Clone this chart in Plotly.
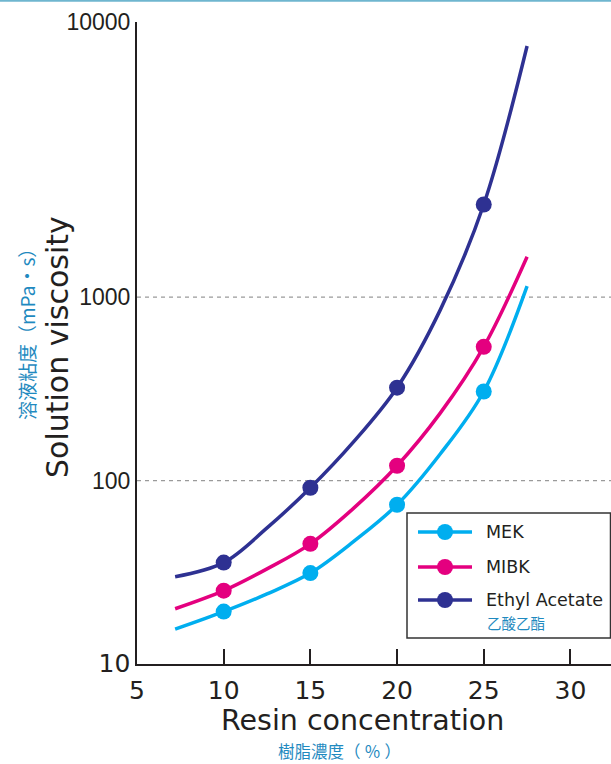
import plotly.graph_objects as go

# Resin concentration (%) at which the measured points are plotted
conc_points = [10, 15, 20, 25]
# Curve sample positions
conc_curve = [7.2, 10, 12.5, 15, 17.5, 20, 22.5, 25, 27.5]

# Solution viscosity (mPa·s)
mek_points = [19.3, 31.3, 73.8, 306]
mibk_points = [25.1, 45.2, 120.5, 536]
ea_points = [35.7, 91.4, 321, 3200]

mek_curve = [15.5, 19.3, 24.1, 31.3, 46.6, 73.8, 140, 306, 1148]
mibk_curve = [20.0, 25.1, 33.0, 45.2, 70.8, 120.5, 234, 536, 1660]
ea_curve = [29.9, 35.7, 55.2, 91.4, 163, 321, 855, 3200, 23400]

series_names = ["MEK", "MIBK", "Ethyl Acetate"]
series_sub = ["", "", "乙酸乙酯"]
series_colors = ["#00aeef", "#e4007f", "#2e3192"]

x_tickvals = [5, 10, 15, 20, 25, 30]
x_ticktext = ["5", "10", "15", "20", "25", "30"]
y_tickvals = [10, 100, 1000, 10 ** 4.5]
y_ticktext = ["<span style='font-family:DejaVu Sans;font-size:25px'>10</span>", "100", "1000", "10000"]
grid_vals = [100, 1000]

W, H = 611, 764
ML, MR, MT, MB = 137, 0, 22, 100
PW, PH = W - ML - MR, H - MT - MB


def px_x(p):
    return (p - ML) / PW


def px_y(p):
    return (H - MB - p) / PH


fig = go.Figure()
curves = [mek_curve, mibk_curve, ea_curve]
points = [mek_points, mibk_points, ea_points]
for i, (name, color) in enumerate(zip(series_names, series_colors)):
    fig.add_trace(go.Scatter(x=conc_curve, y=curves[i], mode="lines", name=name,
                             line=dict(color=color, width=3.5, shape="spline", smoothing=1.0),
                             showlegend=False, hoverinfo="skip"))
    fig.add_trace(go.Scatter(x=conc_points, y=points[i], mode="markers", name=name,
                             marker=dict(color=color, size=16), showlegend=False))

for gv in grid_vals:
    fig.add_shape(type="line", xref="paper", yref="y", x0=0, x1=1, y0=gv, y1=gv,
                  line=dict(color="#9a9a9a", width=1.3, dash="4px,4px"), layer="below")

# thin top rule
fig.add_shape(type="line", xref="paper", yref="paper", x0=px_x(0), x1=px_x(W), y0=px_y(0.8), y1=px_y(0.8),
              line=dict(color="#6fb6cf", width=2))

dark = "#231f20"
cjk_blue = "#1f8ac0"

# legend box (drawn as layout shapes/annotations)
legend_rows = [532, 567, 600]
fig.add_shape(type="rect", xref="paper", yref="paper",
              x0=px_x(407), x1=px_x(610.5), y0=px_y(513), y1=px_y(638),
              line=dict(color="#333333", width=1.5), fillcolor="white", layer="above")
annotations = []
for i, (name, color) in enumerate(zip(series_names, series_colors)):
    ry = legend_rows[i]
    fig.add_shape(type="line", xref="paper", yref="paper",
                  x0=px_x(418), x1=px_x(472), y0=px_y(ry), y1=px_y(ry),
                  line=dict(color=color, width=3.5), layer="above")
    fig.add_shape(type="circle", xref="paper", yref="paper",
                  x0=px_x(445 - 8), x1=px_x(445 + 8), y0=px_y(ry + 8), y1=px_y(ry - 8),
                  line=dict(color=color, width=0), fillcolor=color, layer="above")
    annotations.append(dict(text=name, xref="paper", yref="paper", x=px_x(484), y=px_y(ry),
                            showarrow=False, xanchor="left", yanchor="middle",
                            font=dict(family="DejaVu Sans", size=17.5, color=dark)))
    if series_sub[i]:
        annotations.append(dict(text=series_sub[i], xref="paper", yref="paper", x=px_x(485), y=px_y(ry + 22),
                                showarrow=False, xanchor="left", yanchor="middle",
                                font=dict(family="Noto Sans CJK TC", size=14.5, color=cjk_blue)))

annotations += [
    dict(text="Resin concentration", xref="paper", yref="paper", x=px_x(362), y=px_y(720),
         showarrow=False, xanchor="center", yanchor="middle",
         font=dict(family="DejaVu Sans", size=28.5, color=dark)),
    dict(text="樹脂濃度（ ％ ）", xref="paper", yref="paper", x=px_x(339), y=px_y(751),
         showarrow=False, xanchor="center", yanchor="middle",
         font=dict(family="Noto Sans CJK TC", size=16.5, color=cjk_blue)),
    dict(text="Solution viscosity", xref="paper", yref="paper", x=px_x(57), y=px_y(347),
         showarrow=False, xanchor="center", yanchor="middle", textangle=-90,
         font=dict(family="DejaVu Sans", size=30, color=dark)),
    dict(text="溶液粘度（mPa·s）", xref="paper", yref="paper", x=px_x(26), y=px_y(330),
         showarrow=False, xanchor="center", yanchor="middle", textangle=-90,
         font=dict(family="Noto Sans CJK TC", size=19, color=cjk_blue)),
]

fig.update_layout(
    width=W, height=H,
    margin=dict(l=ML, r=MR, t=MT, b=MB),
    paper_bgcolor="white", plot_bgcolor="white",
    showlegend=False,
    xaxis=dict(range=[5, 32.34], showgrid=False, zeroline=False,
               showline=True, linecolor=dark, linewidth=2,
               ticks="inside", ticklen=15, tickwidth=1.5, tickcolor=dark,
               tickvals=x_tickvals, ticktext=x_ticktext, ticklabelstandoff=3,
               tickfont=dict(family="DejaVu Sans", size=25, color=dark)),
    yaxis=dict(type="log", range=[1, 4.5], showgrid=False, zeroline=False,
               showline=True, linecolor=dark, linewidth=2, ticks="",
               tickvals=y_tickvals, ticktext=y_ticktext,
               tickfont=dict(family="Liberation Sans", size=23, color=dark)),
    annotations=annotations,
)

fig.write_html("out.html", config={"displayModeBar": False},
               post_script="document.body.style.margin='0';")
